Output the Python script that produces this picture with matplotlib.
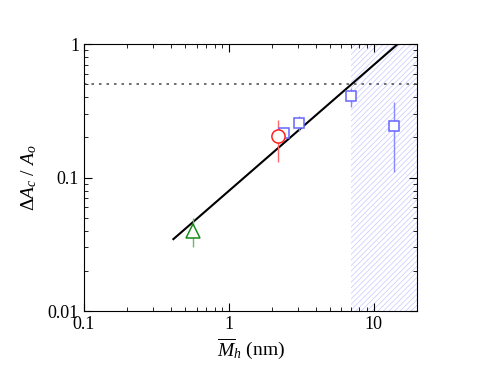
import matplotlib
matplotlib.use("Agg")
import matplotlib.pyplot as plt
import numpy as np

plt.rcParams['font.family'] = ['Liberation Serif', 'DejaVu Serif']
plt.rcParams['mathtext.fontset'] = 'custom'
plt.rcParams['mathtext.rm'] = 'Liberation Serif'
plt.rcParams['mathtext.it'] = 'Liberation Serif:italic'
plt.rcParams['hatch.linewidth'] = 0.5

# Data
sq_x = [2.41, 3.06, 7.03, 13.8]
sq_y = [0.215, 0.256, 0.41, 0.243]
sq_lo = [0.20, 0.225, 0.34, 0.11]
sq_hi = [0.23, 0.29, 0.47, 0.37]

circ_x = [2.19]
circ_y = [0.205]
circ_lo = [0.13]
circ_hi = [0.27]

tri_x = [0.57]
tri_y = [0.040]
tri_lo = [0.030]
tri_hi = [0.050]

fit_x = [0.415, 14.7]
fit_amp = 0.0794
fit_exp = 0.943

hline_y = 0.5
shade_x0 = 7.0

fig = plt.figure(figsize=(4.85, 3.74), dpi=100)
ax = fig.add_axes([0.173, 0.168, 0.687, 0.714])
ax.set_xscale('log')
ax.set_yscale('log')
ax.set_xlim(0.1, 20)
ax.set_ylim(0.01, 1)

ax.axvspan(shade_x0, 20, facecolor='none', edgecolor=(0.78, 0.78, 1.0), hatch='//////', linewidth=0)

ax.axhline(hline_y, color='#555555', linestyle=(0, (1.5, 3)), linewidth=1.2)

fx = np.array(fit_x)
ax.plot(fx, fit_amp * fx ** fit_exp, color='black', linewidth=1.5)

def eb(x, y, lo, hi, color, ecolor, marker, ms):
    x = np.array(x); y = np.array(y)
    yerr = [y - np.array(lo), np.array(hi) - y]
    ax.errorbar(x, y, yerr=yerr, fmt=marker, mfc='white', mec=color, ms=ms,
                mew=1.1, ecolor=ecolor, elinewidth=1.0, capsize=0, zorder=3)

eb(sq_x, sq_y, sq_lo, sq_hi, '#6666ff', '#8888ff', 's', 7.5)
eb(circ_x, circ_y, circ_lo, circ_hi, '#ff2020', '#ff6666', 'o', 9.5)
eb(tri_x, tri_y, tri_lo, tri_hi, '#1a8a1a', '#66bb66', '^', 10)

ax.tick_params(which='both', direction='in', top=True, right=True, labelsize=13)
ax.tick_params(which='major', length=6)
ax.tick_params(which='minor', length=3)
ax.set_xticks([0.1, 1, 10])
ax.set_xticklabels(['0.1', '1', '10'])
ax.set_yticks([0.01, 0.1, 1])
ax.set_yticklabels(['0.01', '0.1', '1'])

ax.set_xlabel(r'$\overline{M}_h$ (nm)', fontsize=14, labelpad=2)
ax.set_ylabel(r'$\mathit{\Delta A_c}$ / $\mathit{A_o}$', fontsize=14, labelpad=6)

fig.savefig('out.png', dpi=100)
